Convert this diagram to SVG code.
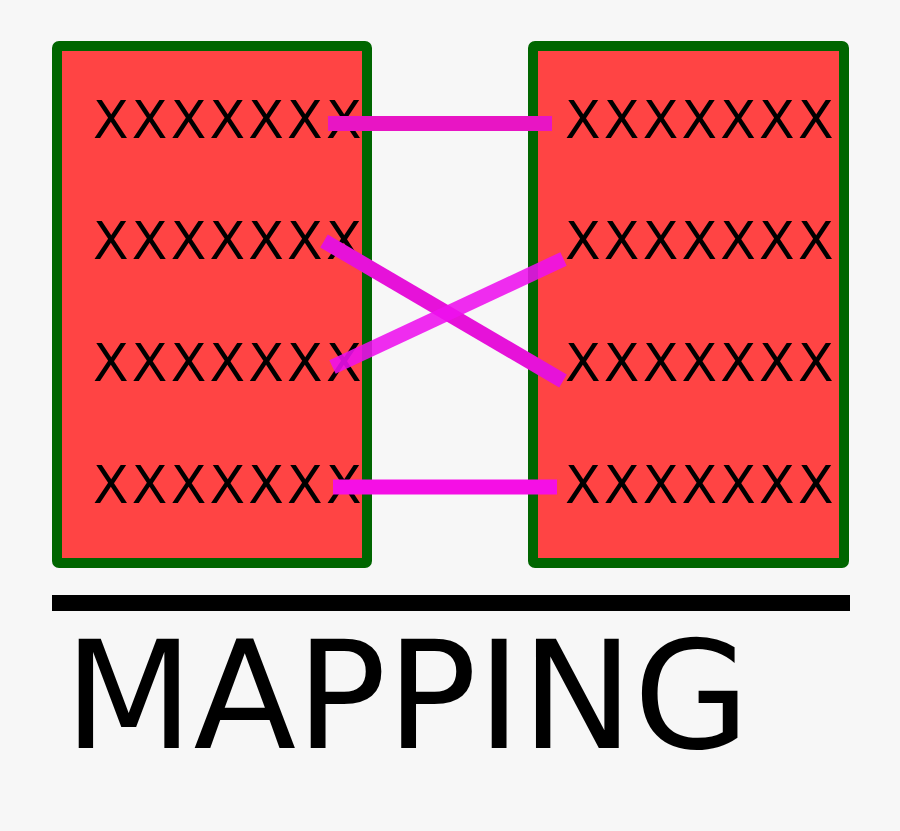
<svg xmlns="http://www.w3.org/2000/svg" width="900" height="831" viewBox="0 0 900 831">
<style>
.box{fill:#ff4444;stroke:#006600;stroke-width:10;stroke-linejoin:round}
.x{font-family:"DejaVu Sans",sans-serif;font-size:52px;letter-spacing:3.2px;fill:#000}
.link{stroke-width:15;fill:none}
</style>
<rect width="900" height="831" fill="#f7f7f7"/>
<g id="left-node">
<rect class="box" x="57" y="46" width="310" height="517" rx="2"/>
<text class="x" x="93" y="138">XXXXXXX</text>
<text class="x" x="93" y="259">XXXXXXX</text>
<text class="x" x="93" y="381">XXXXXXX</text>
<text class="x" x="93" y="503">XXXXXXX</text>
</g>
<g id="right-node">
<rect class="box" x="533" y="46" width="311" height="517" rx="2"/>
<text class="x" x="565" y="138">XXXXXXX</text>
<text class="x" x="565" y="259">XXXXXXX</text>
<text class="x" x="565" y="381">XXXXXXX</text>
<text class="x" x="565" y="503">XXXXXXX</text>
</g>
<g id="connectors">
<line class="link" x1="328" y1="123.5" x2="552" y2="123.5" stroke="#e815c4"/>
<line class="link" x1="324" y1="241" x2="563" y2="381" stroke="#e612d9" stroke-width="14"/>
<line class="link" x1="332.5" y1="367" x2="563.5" y2="259" stroke="#ee10ee" stroke-opacity="0.88" stroke-width="14"/>
<line class="link" x1="333" y1="487" x2="557" y2="487" stroke="#f50fe5"/>
</g>
<g id="caption">
<rect x="52" y="595" width="798" height="16" fill="#000"/>
<text x="64" y="748" font-family="DejaVu Sans, sans-serif" font-size="150" fill="#000">MAPPING</text>
</g>
</svg>
